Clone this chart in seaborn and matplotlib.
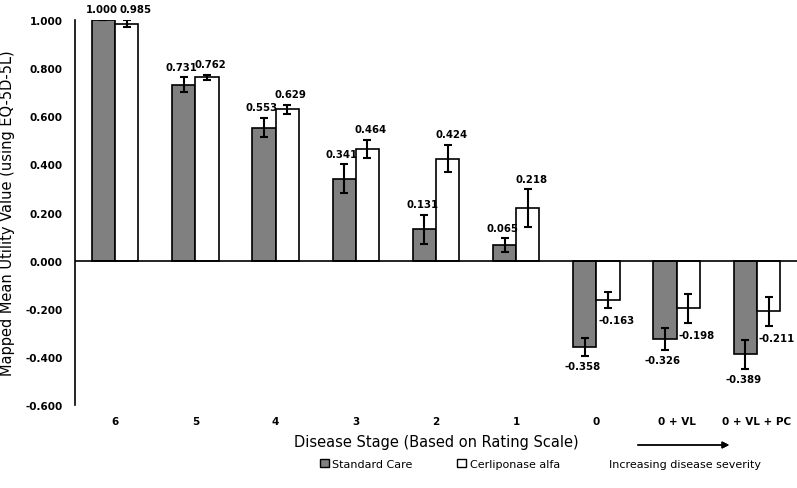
import numpy as np
import matplotlib
matplotlib.use("Agg")
import matplotlib.pyplot as plt
import seaborn as sns
import pandas as pd
from matplotlib.patches import Patch

# Chart data
stages = ["6", "5", "4", "3", "2", "1", "0", "0 + VL", "0 + VL + PC"]
standard_care = [1.000, 0.731, 0.553, 0.341, 0.131, 0.065, -0.358, -0.326, -0.389]
cerliponase = [0.985, 0.762, 0.629, 0.464, 0.424, 0.218, -0.163, -0.198, -0.211]
sc_err = [0.0, 0.031, 0.040, 0.059, 0.060, 0.028, 0.038, 0.044, 0.060]
ca_err = [0.015, 0.010, 0.019, 0.039, 0.057, 0.078, 0.033, 0.060, 0.059]
groups = ["Standard Care", "Cerliponase alfa"]

df = pd.DataFrame({
    "Stage": stages * 2,
    "Utility": standard_care + cerliponase,
    "Group": [groups[0]] * len(stages) + [groups[1]] * len(stages),
})

sns.set_theme(style="white")
plt.rcParams["font.family"] = ["DejaVu Sans"]
plt.rcParams.update({"text.color": "black", "axes.labelcolor": "black",
                     "xtick.color": "black", "ytick.color": "black"})

fig = plt.figure(figsize=(7.97, 4.89), dpi=100)
ax = fig.add_axes([75 / 797, 1 - 406 / 489, 722 / 797, 385 / 489])

colors = {"Standard Care": "#808080", "Cerliponase alfa": "#ffffff"}
sns.barplot(
    data=df, x="Stage", y="Utility", hue="Group", order=stages,
    hue_order=groups, palette=colors, width=0.58, edgecolor="black",
    linewidth=1.2, legend=False, ax=ax
)

# error bars and value labels (offsets in points)
for cont, vals, errs, side in zip(ax.containers, [standard_care, cerliponase], [sc_err, ca_err], [0, 1]):
    xs = [p.get_x() + p.get_width() / 2 for p in cont.patches]
    ax.errorbar(xs, vals, yerr=errs, fmt="none", ecolor="black",
                elinewidth=1.5, capsize=3, capthick=1.5, zorder=5)
    for i, (x, v, e) in enumerate(zip(xs, vals, errs)):
        if v >= 0:
            dx = -1.5 if side == 0 else (6 if i == 0 else 2.5)
            ax.annotate(f"{v:.3f}", (x, v + e), xytext=(dx, 4), textcoords="offset points",
                        ha="center", va="bottom", fontsize=7.3, fontweight="bold")
        elif side == 0:
            ax.annotate(f"{v:.3f}", (x, v - e), xytext=(-1.5, -4), textcoords="offset points",
                        ha="center", va="top", fontsize=7.3, fontweight="bold")
        else:
            ax.annotate(f"{v:.3f}", (x, v - e), xytext=(6, -5.5), textcoords="offset points",
                        ha="center", va="top", fontsize=7.3, fontweight="bold")

ax.axhline(0, color="black", linewidth=1.2, zorder=4)
ax.set_ylim(-0.6, 1.0)
ax.set_xlim(-0.5, len(stages) - 0.5)
yt = np.arange(-0.6, 1.01, 0.2)
ax.set_yticks(yt)
ax.set_yticklabels([f"{t:.3f}" for t in yt])
for s in ["top", "right", "bottom"]:
    ax.spines[s].set_visible(False)
ax.spines["left"].set_color("black")
ax.spines["left"].set_linewidth(1.2)
ax.tick_params(axis="both", length=0)
ax.tick_params(axis="y", pad=9, labelsize=7.5)
ax.tick_params(axis="x", pad=8, labelsize=7.5)
for lab in ax.get_xticklabels() + ax.get_yticklabels():
    lab.set_fontweight("bold")

ax.set_ylabel("Mapped Mean Utility Value (using EQ-5D-5L)", fontsize=10.5, labelpad=7)
ax.set_xlabel("Disease Stage (Based on Rating Scale)", fontsize=10.5, labelpad=6)

# legend
handles = [Patch(facecolor=colors[g], edgecolor="black", linewidth=1, label=g) for g in groups]
fig.legend(handles=handles, loc="center", bbox_to_anchor=(440 / 797, 1 - 465 / 489),
           ncol=2, frameon=False, fontsize=8, handlelength=0.8, handleheight=0.8,
           handletextpad=0.3, columnspacing=4)

# severity arrow
fig.add_artist(plt.annotate("", xy=(732 / 797, 1 - 446 / 489), xytext=(635 / 797, 1 - 446 / 489),
                            xycoords="figure fraction",
                            arrowprops=dict(arrowstyle="-|>", color="black", lw=1, mutation_scale=10)))
fig.text(685 / 797, 1 - 465 / 489, "Increasing disease severity", ha="center", va="center", fontsize=8)

fig.savefig("out.png", dpi=100)
